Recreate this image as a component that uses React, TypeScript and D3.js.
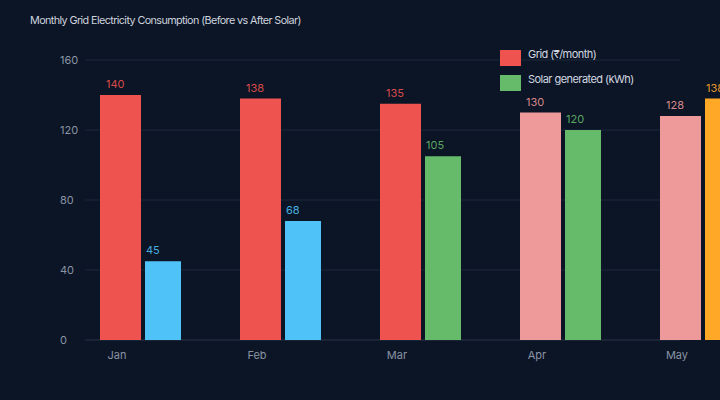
import { scaleBand, scaleLinear } from "d3";
import { FC } from "react";

const months = ["Jan", "Feb", "Mar", "Apr", "May"];
const gridValues = [140, 138, 135, 130, 128];
const solarValues = [45, 68, 105, 120, 138];
const gridColors = ["#ef5350", "#ef5350", "#ef5350", "#ef9a9a", "#ef9a9a"];
const solarColors = ["#4fc3f7", "#4fc3f7", "#66bb6a", "#66bb6a", "#ffa726"];
const yTicks = [0, 40, 80, 120, 160];
const legendItems = [
  { label: "Grid (₹/month)", color: "#ef5350" },
  { label: "Solar generated (kWh)", color: "#66bb6a" }
];

const W = 720;
const H = 400;
const FONT = "Inter, 'Noto Sans', sans-serif";

const App: FC = () => {
  // band per month, 140px step
  const x = scaleBand<string>()
    .domain(months)
    .range([100, 100 + 140 * months.length])
    .padding(0);

  const y = scaleLinear().domain([0, 160]).range([340, 60]);

  const gridW = 41;
  const solarW = 36;
  const solarOff = 45;

  return (
    <svg
      width={W}
      height={H}
      style={{ position: "absolute", left: 0, top: 0, background: "#0b1526" }}
    >
      <rect width={W} height={H} fill="#0b1526" />
      <text
        x={30}
        y={24}
        fill="#cdd3dd"
        fontSize={10.8}
        fontFamily={FONT}
        letterSpacing={-0.6}
      >
        Monthly Grid Electricity Consumption (Before vs After Solar)
      </text>

      {/* grid lines + y labels */}
      {yTicks.map((t) => (
        <g key={t}>
          <line
            x1={85}
            x2={680}
            y1={y(t)}
            y2={y(t)}
            stroke={t === 0 ? "#2a3548" : "#1c283a"}
            strokeWidth={1}
          />
          <text
            x={60}
            y={y(t) + 4}
            fill="#8a93a3"
            fontSize={11}
            fontFamily={FONT}
          >
            {t}
          </text>
        </g>
      ))}

      {/* bars */}
      {months.map((m, i) => {
        const x0 = x(m)!;
        return (
          <g key={m}>
            <rect
              x={x0}
              y={y(gridValues[i])}
              width={gridW}
              height={y(0) - y(gridValues[i])}
              fill={gridColors[i]}
            />
            <text
              x={x0 + 6}
              y={y(gridValues[i]) - 7}
              fill={gridColors[i]}
              fillOpacity={0.9}
              fontSize={11}
              fontFamily={FONT}
            >
              {gridValues[i]}
            </text>
            <rect
              x={x0 + solarOff}
              y={y(solarValues[i])}
              width={solarW}
              height={y(0) - y(solarValues[i])}
              fill={solarColors[i]}
            />
            <text
              x={x0 + solarOff + 1}
              y={y(solarValues[i]) - 7}
              fill={solarColors[i]}
              fillOpacity={0.9}
              fontSize={11}
              fontFamily={FONT}
            >
              {solarValues[i]}
            </text>
            <text
              x={x0 + 17}
              y={359}
              textAnchor="middle"
              fill="#8a93a3"
              fontSize={11}
              fontFamily={FONT}
            >
              {m}
            </text>
          </g>
        );
      })}

      {/* legend */}
      {legendItems.map((d, i) => (
        <g key={d.label} transform={`translate(500,${50 + i * 25})`}>
          <rect width={21} height={16} fill={d.color} />
          <text
            x={28}
            y={8}
            fill="#d3d8e0"
            fontSize={11}
            fontFamily={FONT}
            letterSpacing={-0.55}
          >
            {d.label}
          </text>
        </g>
      ))}
    </svg>
  );
};

export default App;
